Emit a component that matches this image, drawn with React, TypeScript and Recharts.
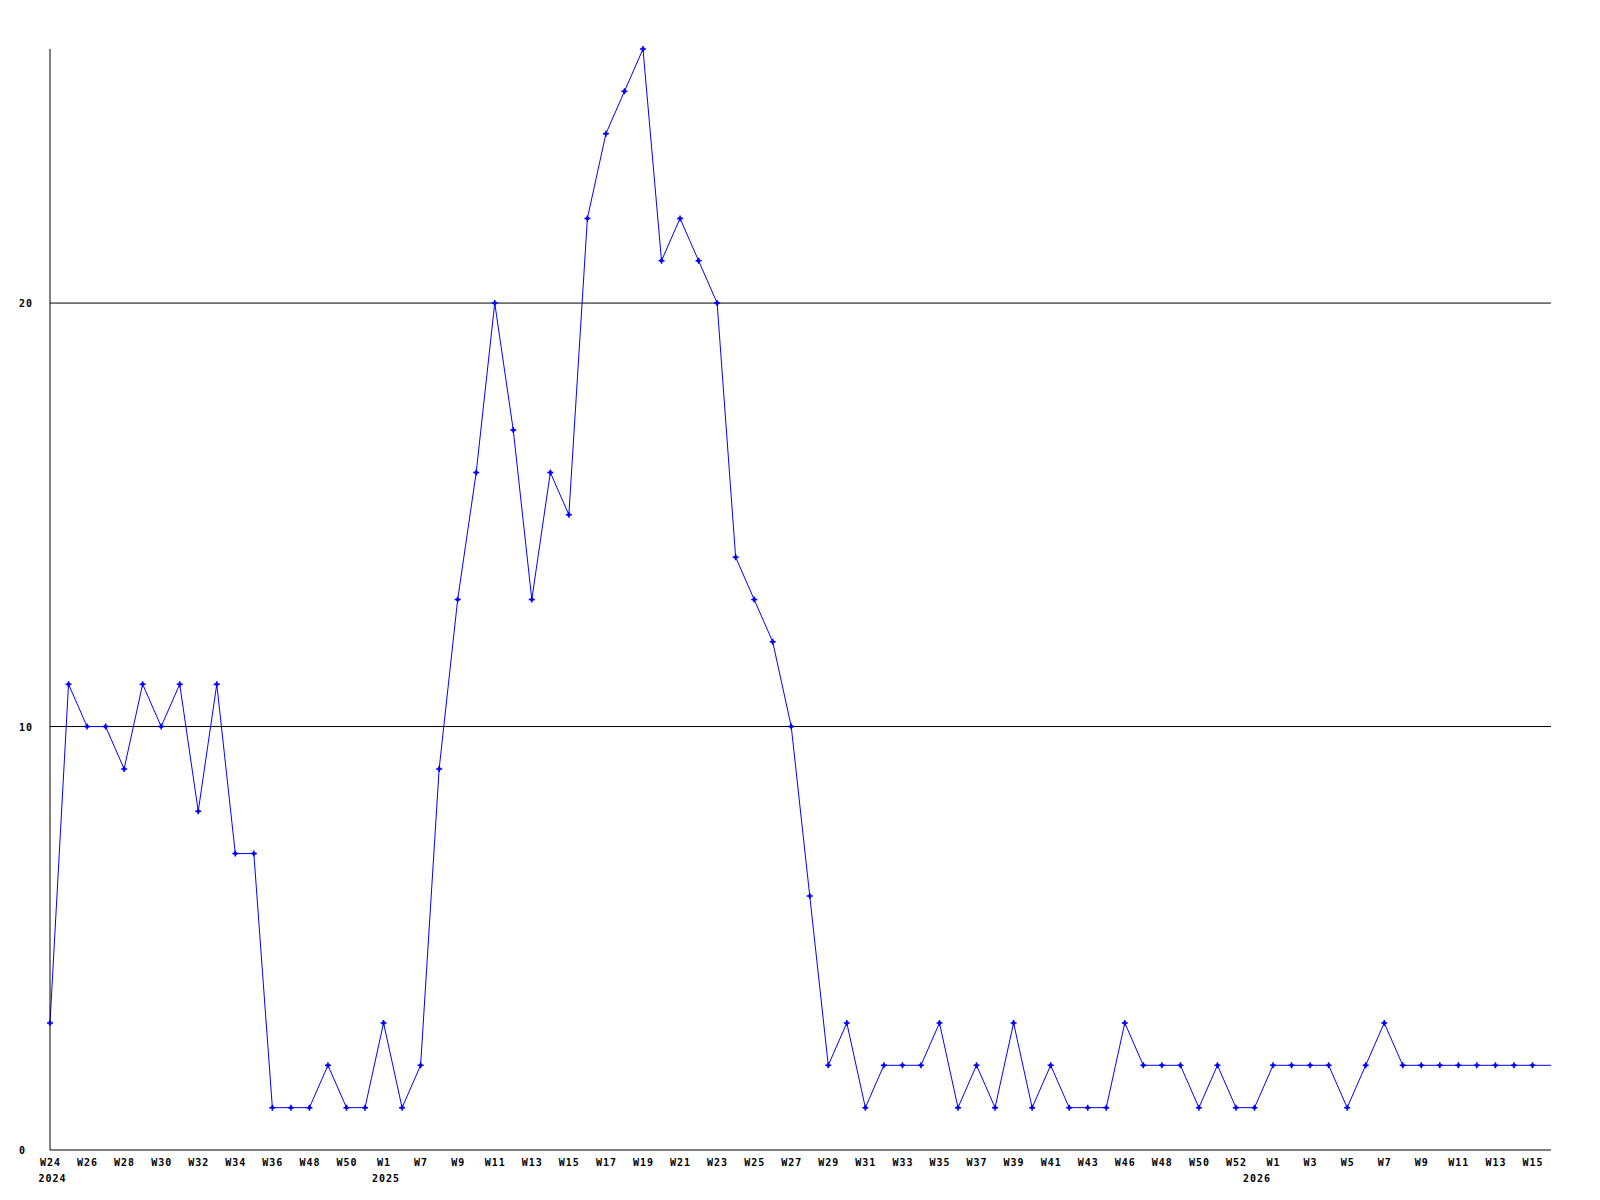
import React from "react";
import { LineChart, Line, XAxis, YAxis, ReferenceLine } from "recharts";

// weekly categories, W24 2024 -> W16 2026 (gaps as in the source)
const weeks = [
  "W24", "W25", "W26", "W27", "W28", "W29", "W30", "W31", "W32", "W33",
  "W34", "W35", "W36", "W47", "W48", "W49", "W50", "W52", "W1", "W6",
  "W7", "W8", "W9", "W10", "W11", "W12", "W13", "W14", "W15", "W16",
  "W17", "W18", "W19", "W20", "W21", "W22", "W23", "W24", "W25", "W26",
  "W27", "W28", "W29", "W30", "W31", "W32", "W33", "W34", "W35", "W36",
  "W37", "W38", "W39", "W40", "W41", "W42", "W43", "W45", "W46", "W47",
  "W48", "W49", "W50", "W51", "W52", "W53", "W1", "W2", "W3", "W4",
  "W5", "W6", "W7", "W8", "W9", "W10", "W11", "W12", "W13", "W14",
  "W15", "W16",
];

const counts = [
  3, 11, 10, 10, 9, 11, 10, 11, 8, 11,
  7, 7, 1, 1, 1, 2, 1, 1, 3, 1,
  2, 9, 13, 16, 20, 17, 13, 16, 15, 22,
  24, 25, 26, 21, 22, 21, 20, 14, 13, 12,
  10, 6, 2, 3, 1, 2, 2, 2, 3, 1,
  2, 1, 3, 1, 2, 1, 1, 1, 3, 2,
  2, 2, 1, 2, 1, 1, 2, 2, 2, 2,
  1, 2, 3, 2, 2, 2, 2, 2, 2, 2,
  2, 2,
];

// where each year label sits (category index)
const yearIndex = [0, 18, 65];
const yearText = ["2024", "2025", "2026"];

const yTicks = [0, 10, 20];
const gridLines = [10, 20];

const data = weeks.map((w, i) => ({ idx: String(i), week: w, count: counts[i] }));

const FONT = "'DejaVu Sans Mono', 'Liberation Mono', monospace";
const txt = { fontFamily: FONT, fontSize: 10, fontWeight: "bold" as const, letterSpacing: 1, fill: "#000" };

function WeekTick(props: any) {
  const { x, payload } = props;
  const i = Number(payload.value);
  const yi = yearIndex.indexOf(i);
  return (
    <g>
      {i % 2 === 0 && (
        <text x={x + 0.5} y={1166} textAnchor="middle" {...txt}>
          {weeks[i]}
        </text>
      )}
      {yi >= 0 && (
        <text x={x + 2.5} y={1181.5} textAnchor="middle" {...txt}>
          {yearText[yi]}
        </text>
      )}
    </g>
  );
}

function ValueTick(props: any) {
  const { y, payload } = props;
  return (
    <text x={19} y={y + 4} textAnchor="start" {...txt}>
      {payload.value}
    </text>
  );
}

function Marker(props: any) {
  const { cx, cy, index } = props;
  if (index === counts.length - 1 || cx == null) return <g key={`d${index}`} />;
  return (
    <g key={`d${index}`}>
      <path d={`M${cx - 3},${cy}H${cx + 3}M${cx},${cy - 3}V${cy + 3}`} stroke="#0000ff" strokeWidth={1.5} />
      <rect x={cx - 1.5} y={cy - 1.5} width={3} height={3} fill="#0000ff" />
    </g>
  );
}

export default function App() {
  return (
    <div style={{ position: "absolute", left: 0, top: 0, background: "#fff" }}>
      <LineChart width={1600} height={1200} data={data} margin={{ top: 49, right: 49, left: 0, bottom: 0 }}>
        <XAxis
          dataKey="idx"
          type="category"
          interval={0}
          height={50}
          tickLine={false}
          axisLine={{ stroke: "#000" }}
          tick={<WeekTick />}
        />
        <YAxis
          width={50}
          domain={[0, 26]}
          ticks={yTicks}
          tickLine={false}
          axisLine={{ stroke: "#000" }}
          tick={<ValueTick />}
        />
        {gridLines.map((v) => (
          <ReferenceLine key={v} y={v} stroke="#000" strokeWidth={1} />
        ))}
        <Line
          type="linear"
          dataKey="count"
          stroke="#0000ff"
          strokeWidth={1}
          dot={<Marker />}
          activeDot={false}
          isAnimationActive={false}
        />
      </LineChart>
    </div>
  );
}
